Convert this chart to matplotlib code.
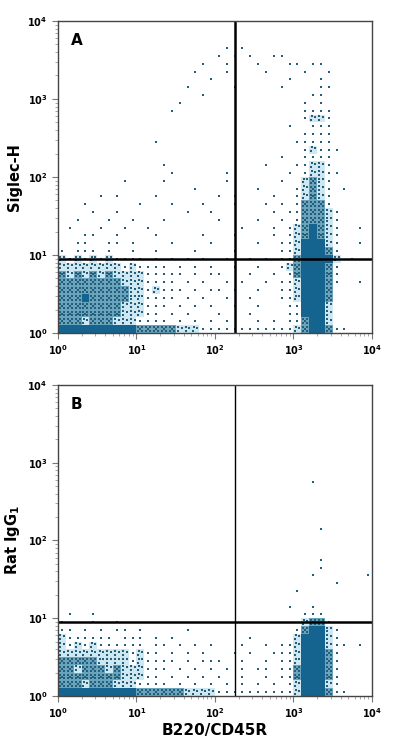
import numpy as np
import matplotlib
matplotlib.use("Agg")
import matplotlib.pyplot as plt
from matplotlib.colors import ListedColormap, BoundaryNorm

# density grids: 40x40 bins of 0.1 decade, rows from top (10^4) to bottom (10^0)
z = "0000000000"
density_A = [
 z+z+z+z, z+z+z+z, z+z+z+z,
 z+z+"0101000000"+z,
 z+z+"1010100110"+z,
 z+"0000000010"+"0100010001"+"1011000000",
 z+"0000000100"+"0100001000"+"0100100000",
 z+"0000000001"+"0000000001"+"0001000000",
 z+"0000001000"+"0010000010"+"0001100000",
 z+"0000000010"+z+"0011000000",
 z+"0000010000"+z+"0101000000",
 z+"0000100000"+z+"0111100000",
 z+z+z+"0122100000",
 z+z+"0000000001"+"0011100000",
 z+z+z+"0111100000",
 z+"0010000000"+z+"1111100000",
 z+z+z+"0121110000",
 z+z+"0000000010"+"0111100000",
 z+"0001000000"+"0000001000"+"1122100000",
 z+"0000100000"+"0100000001"+"0122110000",
 "0000000010"+"0001000000"+"0100000010"+"0232100000",
 z+"0000000100"+"0000010000"+"1232101000",
 "0000010100"+"0010000000"+"1010000100"+"1232100000",
 "0001000000"+"1000100010"+"0010001010"+"1333100000",
 "0000100100"+"0000001001"+"0000000101"+"1333210000",
 "0010001001"+"0001000000"+"1000010010"+"1333210000",
 "0100010010"+"0100000000"+"0001000101"+"2343210010",
 "0001100100"+"0010000010"+"0010000101"+"2343210000",
 "0011001101"+"0000100001"+"0000010011"+"2444210010",
 "1011101001"+"0010000100"+"0010000011"+"2444310000",
 "2121212111"+"1010101010"+"0100101011"+"3444420100",
 "2222222212"+"1111010101"+"0010010012"+"3444310000",
 "3232323222"+"2111110101"+"1000100101"+"3444310000",
 "3333333322"+"2111101010"+"0101001011"+"2444310010",
 "3333333332"+"2121110101"+"1010010011"+"2444300000",
 "3334333332"+"2111101010"+"0100100011"+"2444300000",
 "3333333322"+"2111010101"+"0010010001"+"1444200000",
 "3333333322"+"2110101000"+"1000100001"+"1444200000",
 "3332333222"+"1111010101"+"0100010101"+"1344200000",
 "4444444444"+"3333322211"+"1111111111"+"2344311000",
]
density_B = [z+z+z+z]*12 + [
 z+z+z+"0010000000",
 z+z+z+z, z+z+z+z, z+z+z+z, z+z+z+z,
 z+z+z+z,
 z+z+z+"0001000000",
 z+z+z+z, z+z+z+z, z+z+z+z,
 z+z+z+"0001000000",
 z+z+z+"0001000000",
 z+z+z+"0010000001",
 z+z+z+"0000010000",
 z+z+z+"1000000000",
 z+z+z+z,
 z+z+"0000000001"+"0010000000",
 "0100100000"+z+z+"0111000000",
 "1000100100"+z+z+"0233100000",
 "1101010110"+"1000001000"+z+"1344210000",
 "2111111011"+"1010100000"+"0000100000"+"2444210000",
 "2121211111"+"1011010101"+"0001001011"+"2444211010",
 "2222222221"+"2110101010"+"0010100111"+"2444310000",
 "3333322221"+"2111101011"+"1001001011"+"2444310000",
 "3323332322"+"2111010101"+"0101011011"+"3444310000",
 "3333333322"+"2110101010"+"1001001011"+"3444310000",
 "3332333222"+"1111010101"+"0101010101"+"2444210000",
 "4444444444"+"3333332222"+"1111111111"+"2444311000",
]
gate_x = 180
gate_y = 9
panels = ["A", "B"]
ylabels = ["Siglec-H", "Rat IgG$_\\mathbf{1}$"]
xlabel = "B220/CD45R"

cmap = ListedColormap(["white", "white", "#cfe7f0", "#6aa3bc", "#15648f"])
norm = BoundaryNorm([-0.5, 0.5, 1.5, 2.5, 3.5, 4.5], 5)
edges = 10 ** (np.arange(41) / 10)
dot_color = "#235f7a"
offsets = {1: [(0.5, 0.5)], 2: [(0.25, 0.3), (0.75, 0.7), (0.3, 0.8)],
           3: [(0.25, 0.25), (0.75, 0.25), (0.25, 0.75), (0.75, 0.75), (0.5, 0.5)]}

fig = plt.figure(figsize=(4.01, 7.49), dpi=100)
rects = [[0.1446, 0.5554, 0.783, 0.4166], [0.1446, 0.0708, 0.783, 0.4152]]
for i, dens in enumerate([density_A, density_B]):
    ax = fig.add_axes(rects[i])
    grid = np.array([[int(c) for c in row] for row in dens[::-1]])
    ax.pcolormesh(edges, edges, grid, cmap=cmap, norm=norm, shading="flat")
    xs, ys = [], []
    for r in range(40):
        for c in range(40):
            lv = grid[r, c]
            if lv in offsets:
                for fx, fy in offsets[lv]:
                    xs.append(10 ** ((c + fx) / 10)); ys.append(10 ** ((r + fy) / 10))
    ax.scatter(xs, ys, s=4, marker="s", color=dot_color, linewidths=0)
    ax.set_xscale("log"); ax.set_yscale("log")
    ax.set_xlim(1, 1e4); ax.set_ylim(1, 1e4)
    ax.axvline(gate_x, color="black", lw=1.8 if i == 0 else 1.0)
    ax.axhline(gate_y, color="black", lw=1.8)
    ax.text(0.04, 0.96, panels[i], transform=ax.transAxes, fontsize=11,
            fontweight="bold", va="top", ha="left")
    ax.set_ylabel(ylabels[i], fontsize=10.5, fontweight="bold", labelpad=4)
    if i == 1:
        ax.set_xlabel(xlabel, fontsize=11, fontweight="bold", labelpad=2)
    ax.tick_params(which="major", labelsize=7, length=4, color="#777777")
    ax.tick_params(which="minor", length=2.5, color="#999999")
    for s in ax.spines.values():
        s.set_color("#444444"); s.set_linewidth(1.0)
    for lbl in ax.get_xticklabels() + ax.get_yticklabels():
        lbl.set_fontweight("bold")
fig.savefig("out.png", dpi=100)
